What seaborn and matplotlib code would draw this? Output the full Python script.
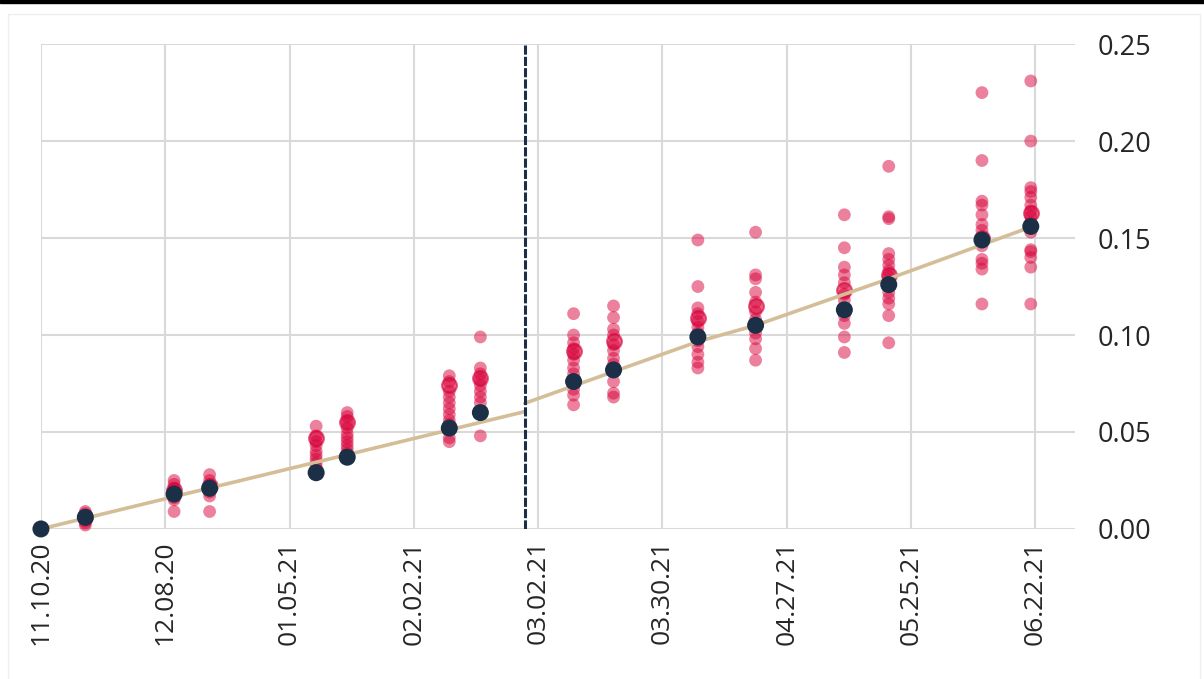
import pandas as pd
import numpy as np
import matplotlib
matplotlib.use('Agg')
import matplotlib.pyplot as plt
from matplotlib.patches import Rectangle
import seaborn as sns

# dates of each group of estimates
group_dates = ['2020-11-20', '2020-12-10', '2020-12-18', '2021-01-11', '2021-01-18',
               '2021-02-10', '2021-02-17', '2021-03-10', '2021-03-19', '2021-04-07',
               '2021-04-20', '2021-05-10', '2021-05-20', '2021-06-10', '2021-06-21']

# individual estimates (red dots)
estimates = [
    [0.002, 0.003, 0.004, 0.005, 0.006, 0.007, 0.008, 0.009],
    [0.025, 0.023, 0.021, 0.019, 0.018, 0.016, 0.015, 0.009],
    [0.028, 0.025, 0.023, 0.022, 0.020, 0.019, 0.017, 0.009],
    [0.053, 0.048, 0.045, 0.043, 0.040, 0.038, 0.036, 0.034, 0.032],
    [0.060, 0.058, 0.055, 0.052, 0.049, 0.047, 0.045, 0.043, 0.041, 0.039],
    [0.079, 0.076, 0.071, 0.068, 0.065, 0.062, 0.059, 0.056, 0.054, 0.047, 0.045],
    [0.099, 0.083, 0.080, 0.077, 0.074, 0.071, 0.068, 0.065, 0.048],
    [0.111, 0.100, 0.096, 0.093, 0.090, 0.087, 0.083, 0.080, 0.072, 0.069, 0.064],
    [0.115, 0.109, 0.103, 0.100, 0.095, 0.092, 0.088, 0.085, 0.076, 0.070, 0.068],
    [0.149, 0.125, 0.114, 0.111, 0.107, 0.104, 0.101, 0.097, 0.094, 0.090, 0.086, 0.083],
    [0.153, 0.131, 0.129, 0.122, 0.117, 0.112, 0.108, 0.101, 0.098, 0.093, 0.087],
    [0.162, 0.145, 0.135, 0.131, 0.127, 0.121, 0.118, 0.110, 0.106, 0.099, 0.091],
    [0.187, 0.161, 0.160, 0.142, 0.139, 0.136, 0.133, 0.130, 0.122, 0.119, 0.116, 0.110, 0.096],
    [0.225, 0.190, 0.169, 0.167, 0.162, 0.157, 0.154, 0.146, 0.139, 0.137, 0.134, 0.116],
    [0.231, 0.200, 0.176, 0.174, 0.171, 0.167, 0.164, 0.161, 0.158, 0.153, 0.144, 0.143, 0.140, 0.135, 0.116],
]

# highlighted estimate per group (ringed red circle)
median_vals = [0.006, 0.020, 0.022, 0.047, 0.055, 0.074, 0.078, 0.092, 0.097,
               0.109, 0.115, 0.123, 0.131, 0.150, 0.163]

# actual values (dark dots), incl. starting point
actual_dates = ['2020-11-10'] + group_dates
actual_vals = [0.0, 0.006, 0.018, 0.021, 0.029, 0.037, 0.052, 0.060, 0.076, 0.082,
               0.099, 0.105, 0.113, 0.126, 0.149, 0.156]

# trend line, two pieces split at the break
trend1_dates = ['2020-11-10', '2021-02-27']
trend1_vals = [0.0, 0.0605]
trend2_dates = ['2021-02-27', '2021-04-07', '2021-04-20', '2021-05-20', '2021-06-21']
trend2_vals = [0.0648, 0.0966, 0.1050, 0.1290, 0.1557]

break_date = '2021-02-27'
tick_labels = ['11.10.20', '12.08.20', '01.05.21', '02.02.21', '03.02.21',
               '03.30.21', '04.27.21', '05.25.21', '06.22.21']

RED = '#D9043C'
NAVY = '#1B3046'
TAN = '#D4BE98'

rows = []
for d, vals in zip(group_dates, estimates):
    for v in vals:
        rows.append({'date': pd.Timestamp(d), 'value': v})
est = pd.DataFrame(rows)
med = pd.DataFrame({'date': pd.to_datetime(group_dates), 'value': median_vals})
act = pd.DataFrame({'date': pd.to_datetime(actual_dates), 'value': actual_vals})

sns.set_style('white')
plt.rcParams['font.family'] = ['Open Sans', 'DejaVu Sans']

fig = plt.figure(figsize=(12.04, 6.79), dpi=100)
ax = fig.add_axes([0.034, 0.221, 0.859, 0.714])

# grid
ax.grid(True, color='#D9D9D9', linewidth=1.5)
ax.set_axisbelow(True)

sns.scatterplot(data=est, x='date', y='value', color=RED, alpha=0.5, s=85,
                edgecolor='none', ax=ax, zorder=3, clip_on=False)
sns.scatterplot(data=med, x='date', y='value', color=RED, alpha=0.6, s=115,
                edgecolor=RED, linewidth=1.5, ax=ax, zorder=3)
sns.lineplot(x=pd.to_datetime(trend1_dates), y=trend1_vals, color=TAN, linewidth=2.6,
             ax=ax, zorder=4)
sns.lineplot(x=pd.to_datetime(trend2_dates), y=trend2_vals, color=TAN, linewidth=2.6,
             ax=ax, zorder=4)
sns.scatterplot(data=act, x='date', y='value', color=NAVY, s=150, edgecolor='none',
                ax=ax, zorder=5, clip_on=False)

ax.axvline(pd.Timestamp(break_date), color=NAVY, linewidth=2.2,
           linestyle=(0, (3, 0.7)), zorder=6)

ax.set_xlim(pd.Timestamp('2020-11-10'), pd.Timestamp('2021-07-01'))
ax.set_ylim(0, 0.25)
ticks = pd.date_range('2020-11-10', periods=len(tick_labels), freq='28D')
ax.set_xticks(ticks)
ax.set_xticklabels(tick_labels, rotation=90, fontsize=19)
ax.set_yticks([0, 0.05, 0.10, 0.15, 0.20, 0.25])
ax.set_yticklabels(['0.00', '0.05', '0.10', '0.15', '0.20', '0.25'], fontsize=19.5)
ax.yaxis.tick_right()
ax.tick_params(axis='both', length=0)
ax.tick_params(axis='y', pad=16)
ax.tick_params(axis='x', pad=8)
ax.set_xlabel('')
ax.set_ylabel('')
for s in ax.spines.values():
    s.set_visible(False)

# frame
fig.patches.append(Rectangle((0, 0.995), 1, 0.005, transform=fig.transFigure,
                             color='black', zorder=10))
fig.patches.append(Rectangle((0.007, -0.01), 0.99, 0.99, transform=fig.transFigure,
                             fill=False, edgecolor='#EEEEEE', linewidth=1))

fig.savefig('out.png', dpi=100)
